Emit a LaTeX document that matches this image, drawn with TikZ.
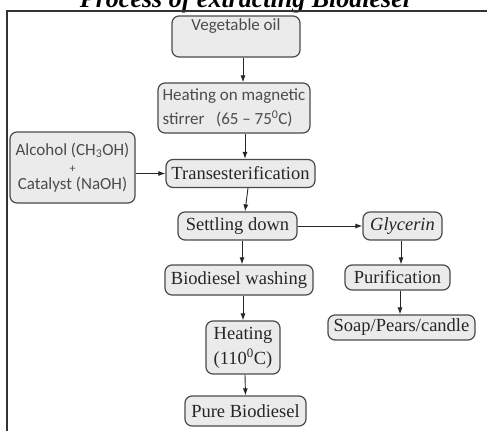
\documentclass[tikz,border=0pt]{standalone}
\usepackage{fontspec}
\setmainfont{Liberation Serif}
\newfontfamily\sansfnt{Carlito}
\usetikzlibrary{arrows.meta}

\definecolor{boxfill}{HTML}{EBEBEB}
\definecolor{boxline}{HTML}{4A4A4A}

\tikzset{
  stage/.style={draw=boxline, fill=boxfill, line width=1.2pt, rounded corners=7pt,
    inner sep=2pt, text=black!85, font=\fontsize{18.5}{25}\selectfont},
  sansstage/.style={stage, text=black!70, font=\sansfnt\fontsize{17}{24}\selectfont},
  arr/.style={->, line width=0.9pt, draw=black!85},
}

\begin{document}
\begin{tikzpicture}[x=1pt, y=-1pt, >={Latex[length=7pt,width=5pt]}]
  \useasboundingbox (0,0) rectangle (487,431);
  \clip (0,0) rectangle (487,431);
  % title, cut at the top, and the frame
  \node[anchor=base, inner sep=0pt, font=\bfseries\itshape\fontsize{26}{30}\selectfont] (title) at (245,8) {Process of extracting Biodiesel};
  \draw[line width=1.5pt, black!80] (487,11) -- (7,11) -- (7,431);

  % main line
  \node[sansstage, minimum width=128, minimum height=41, text depth=24] (veg) at (236,36.5) {Vegetable oil};
  \node[sansstage, align=left, minimum width=152, minimum height=50] (heat1) at (234,108) {Heating on magnetic\\stirrer\ \ \ (65 \textendash{} 75\textsuperscript{0}C)};
  \node[sansstage, align=center, minimum width=125, minimum height=71, font=\sansfnt\fontsize{17}{17}\selectfont] (alc) at (72.5,167.5) {Alcohol (CH\textsubscript{3}OH)\\{\fontsize{12}{17}\selectfont +}\\Catalyst (NaOH)};
  \node[stage, minimum width=149, minimum height=28] (trans) at (240.5,173.5) {Transesterification};
  \node[stage, minimum width=119, minimum height=28] (settle) at (237.5,226) {Settling down};
  \node[stage, minimum width=148, minimum height=30] (wash) at (239,280) {Biodiesel washing};
  \node[stage, align=center, minimum width=74, minimum height=53] (heat2) at (243,347.5) {Heating\\(110\textsuperscript{0}C)};
  \node[stage, minimum width=121, minimum height=30] (pure) at (245.5,411) {Pure Biodiesel};

  % by-product line
  \node[stage, minimum width=79, minimum height=28] (glyc) at (402.5,226) {\itshape Glycerin};
  \node[stage, minimum width=105, minimum height=25] (purif) at (397.5,277.5) {Purification};
  \node[stage, minimum width=147, minimum height=25] (soap) at (401.5,327.5) {Soap/Pears/candle};

  \draw[arr] ([xshift=7]veg.south) -- ([xshift=9]heat1.north);
  \draw[arr] ([xshift=11]heat1.south) -- ([xshift=4.5]trans.north);
  \draw[arr] (alc.east |- trans.west) -- (trans.west);
  \draw[arr] ([xshift=7.5]trans.south) -- ([xshift=7.5]settle.north);
  \draw[arr] ([xshift=4.5]settle.south) -- ([xshift=3]wash.north);
  \draw[arr] ([xshift=4]wash.south) -- (heat2.north);
  \draw[arr] ([xshift=2]heat2.south) -- (pure.north);
  \draw[arr] (settle) -- (glyc);
  \draw[arr] ([xshift=-1.5]glyc.south) -- ([xshift=3.5]purif.north);
  \draw[arr] ([xshift=2.5]purif.south) -- ([xshift=-1.5]soap.north);
\end{tikzpicture}
\end{document}
